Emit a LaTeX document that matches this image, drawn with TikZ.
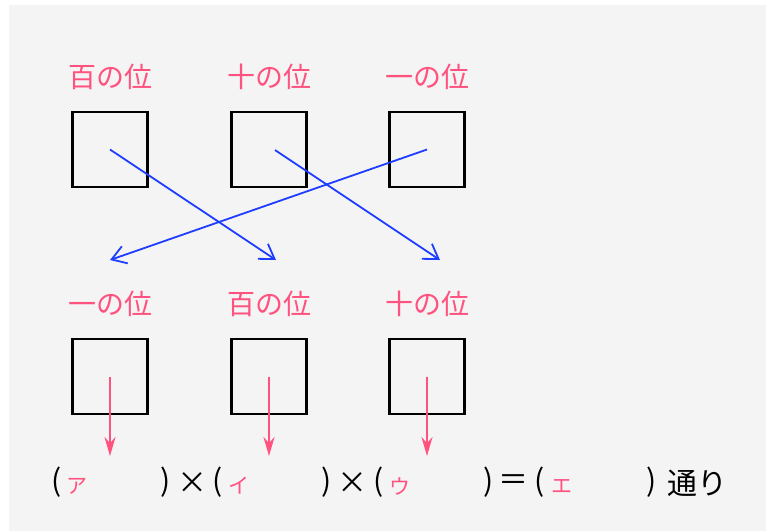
\documentclass[tikz,border=0pt]{standalone}
\usepackage{fontspec}
\setmainfont{Noto Sans CJK JP}
\usetikzlibrary{arrows.meta}
\definecolor{bg}{HTML}{F4F4F4}
\definecolor{pk}{HTML}{FF527E}
\definecolor{bl}{HTML}{1F3DFF}
\begin{document}
\begin{tikzpicture}[x=1pt,y=-1pt,
  digit/.style={draw=black,line width=2.6pt,minimum width=75pt,minimum height=75pt,inner sep=0pt},
  place/.style={text=pk,font=\fontsize{28}{28}\selectfont,inner sep=0pt},
  eq/.style={text=black,font=\fontsize{30}{30}\selectfont,inner sep=0pt},
  kana/.style={text=pk,font=\fontsize{21}{21}\selectfont,inner sep=0pt},
  swap/.style={draw=bl,line width=1.8pt,-{Straight Barb[length=14pt,width=18pt,line width=1.8pt]}},
  down/.style={draw=pk,line width=2.2pt,-{Stealth[length=19pt,width=11pt]}}]
\useasboundingbox (0,0) rectangle (766,531);
\fill[white] (0,0) rectangle (766,531);
\fill[bg] (9,5) rectangle (766,531);
% top row
\node[place] (t1) at (110,77) {百の位};
\node[place] (t2) at (269,77) {十の位};
\node[place] (t3) at (427,77) {一の位};
\node[digit] (a1) at (110,149.5) {};
\node[digit] (a2) at (269,149.5) {};
\node[digit] (a3) at (427,149.5) {};
% bottom row
\node[place] (u1) at (110,304) {一の位};
\node[place] (u2) at (269,304) {百の位};
\node[place] (u3) at (427,304) {十の位};
\node[digit] (b1) at (110,376.5) {};
\node[digit] (b2) at (269,376.5) {};
\node[digit] (b3) at (427,376.5) {};
% blue swaps
\coordinate (s2) at (275,150);
\coordinate (e1) at (110,260);
\coordinate (e2) at (276,260);
\coordinate (e3) at (440,260);
\draw[swap] (a1.center) -- (e2);
\draw[swap] (s2) -- (e3);
\draw[swap] (a3.center) -- (e1);
% pink arrows
\coordinate (d1) at (110,456);
\coordinate (d2) at (269,456);
\coordinate (d3) at (427,456);
\draw[down] (b1.center) -- (d1);
\draw[down] (b2.center) -- (d2);
\draw[down] (b3.center) -- (d3);
% equation
\node[eq] (p1) at (57,482) {(};
\node[kana] (k1) at (77,486) {ア};
\node[eq] (q1) at (166,482) {)};
\node[eq] (m1) at (192,483) {×};
\node[eq] (p2) at (218,482) {(};
\node[kana] (k2) at (239,486) {イ};
\node[eq] (q2) at (327,482) {)};
\node[eq] (m2) at (352,483) {×};
\node[eq] (p3) at (379,482) {(};
\node[kana] (k3) at (400,486) {ウ};
\node[eq] (q3) at (489,482) {)};
\node[eq] (m3) at (513,483) {＝};
\node[eq] (p4) at (540,482) {(};
\node[kana] (k4) at (562,486) {エ};
\node[eq] (q4) at (652,482) {)};
\node[eq] (w) at (697,483) {通り};
\end{tikzpicture}
\end{document}
